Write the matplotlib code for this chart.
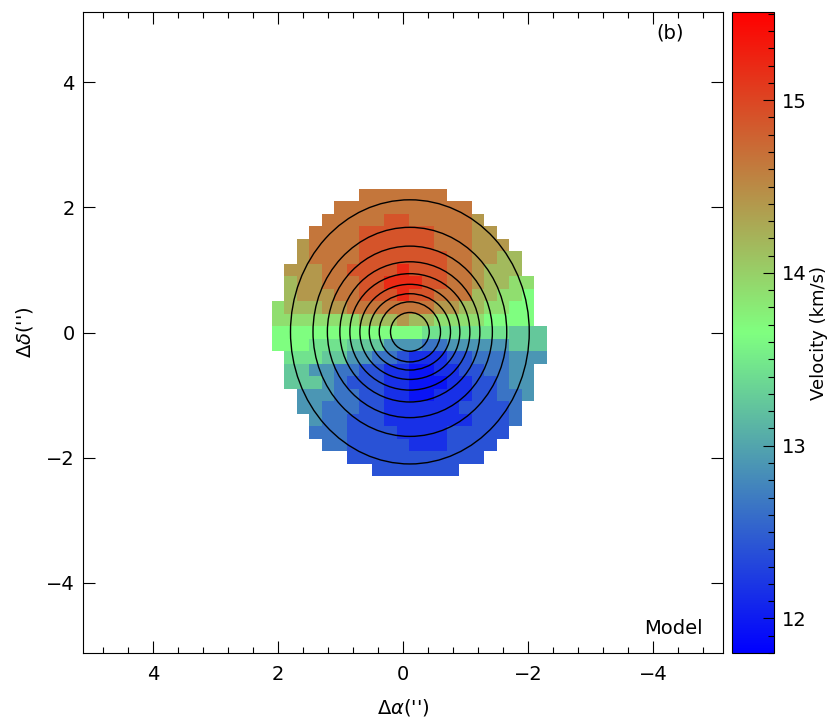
import matplotlib
matplotlib.use("Agg")
import matplotlib.pyplot as plt
import numpy as np
from matplotlib.colors import LinearSegmentedColormap
from matplotlib.patches import Ellipse
from matplotlib.ticker import MultipleLocator

# velocity levels seen in the map (one letter per level)
level_codes = list("RroyglGtcTsbdB")
level_values = [15.2, 14.9, 14.65, 14.4, 14.15, 13.9, 13.65,
                13.45, 13.25, 12.9, 12.65, 12.4, 12.15, 11.95]

# model velocity map, 0.2" pixels, top row = north, "." = no data
velocity_rows = [
    ".......ooooooo........",
    ".....ooooooooooo......",
    "....ooooorroooooy.....",
    "...oooorrrrrroooyy....",
    "..yoooorrrrrroooyyy...",
    "..yoooorrrrrrrooyygg..",
    ".yyyoorrrrRrrrooyggg..",
    ".gyyooorrRRRrrooyggll.",
    ".gyyyoorrrRrroooggllG.",
    "lgggyyoooooooyyggllGG.",
    "lllllllgggyggllllGGGG.",
    "GGGGGGGGGGGGtttttttccc",
    "GGGtttcccTTTssTTTTTccc",
    ".tttccTTssbdddbbsssTTT",
    ".ccTTssbbddBBddbbssTT.",
    ".cccTsbbbddBBBddbbsTT.",
    "..TTTssbbddBBdddbbssT.",
    "..TTsssbbddddddbbbbs..",
    "...Tssbbbdddddddbbbs..",
    "...sssbbbbddddbbbbb...",
    "....ssbbbbbdddbbbb....",
    "......bbbbbbbbbbb.....",
    "........bbbbbbb.......",
]
pix = 0.2
ref_col, ref_row = 10, 11

# intensity contours (semi-axes in arcsec)
contour_ax = [1.91, 1.55, 1.32, 1.12, 0.96, 0.80, 0.65, 0.49, 0.31]
contour_ay = [2.11, 1.67, 1.37, 1.12, 0.93, 0.76, 0.61, 0.48, 0.31]
contour_x0, contour_y0 = -0.11, 0.01

vmin, vmax = 11.8, 15.51

lookup = dict(zip(level_codes, level_values))
for row in velocity_rows:
    assert len(row) == 22, row
vel = np.array([[lookup.get(ch, np.nan) for ch in row] for row in velocity_rows])
vel = np.ma.masked_invalid(vel)
nrow, ncol = vel.shape
x_edges = (ref_col - np.arange(ncol + 1) + 0.5) * pix
y_edges = (ref_row - np.arange(nrow + 1) + 0.5) * pix

cmap = LinearSegmentedColormap.from_list("bgr", ["#0000ff", "#80ff80", "#ff0000"])

plt.rcParams["font.size"] = 14

fig = plt.figure(figsize=(8.3, 7.19), dpi=100)
ax = fig.add_axes([83 / 830, 66 / 719, 640 / 830, 641 / 719])
cax = fig.add_axes([732 / 830, 66 / 719, 42 / 830, 641 / 719])

mesh = ax.pcolormesh(x_edges, y_edges, vel, cmap=cmap, vmin=vmin, vmax=vmax)

for a, b in zip(contour_ax, contour_ay):
    ax.add_patch(Ellipse((contour_x0, contour_y0), 2 * a, 2 * b,
                         fill=False, edgecolor="black", lw=1.0))

ax.set_xlim(5.12, -5.12)
ax.set_ylim(-5.12, 5.12)
ax.xaxis.set_major_locator(MultipleLocator(2))
ax.xaxis.set_minor_locator(MultipleLocator(0.4))
ax.yaxis.set_major_locator(MultipleLocator(2))
ax.tick_params(which="both", direction="in", top=True, right=True, width=0.8)
ax.tick_params(which="major", length=8.6)
ax.tick_params(which="minor", length=4.3)
ax.tick_params(axis="x", pad=9)
ax.tick_params(axis="y", pad=6)
ax.set_xlabel(r"$\Delta\alpha$('')", labelpad=9)
ax.set_ylabel(r"$\Delta\delta$('')", labelpad=8)

ax.text(0.917, 0.967, "(b)", transform=ax.transAxes, ha="center", va="center")
ax.text(0.923, 0.039, "Model", transform=ax.transAxes, ha="center", va="center")

cb = fig.colorbar(mesh, cax=cax)
cb.set_ticks([12, 13, 14, 15])
cax.yaxis.set_minor_locator(MultipleLocator(0.1))
cax.tick_params(which="both", direction="in", right=True, left=False, width=0.8)
cax.tick_params(which="major", length=8, pad=6)
cax.tick_params(which="minor", length=4.5)
cb.outline.set_linewidth(0.8)
cb.set_label("Velocity (km/s)", fontsize=13, labelpad=2)

fig.savefig("out.png", dpi=100)
